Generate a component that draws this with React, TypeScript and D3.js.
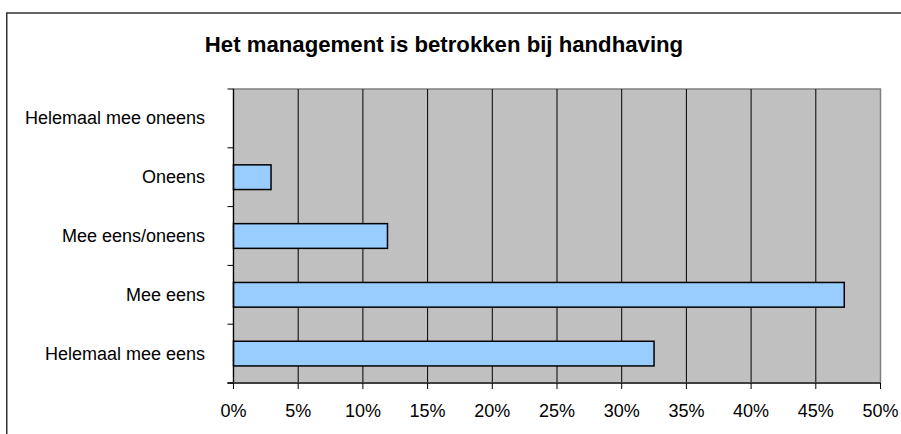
import React from "react";
import * as d3 from "d3";

const title = "Het management is betrokken bij handhaving";
const categories = ["Helemaal mee oneens", "Oneens", "Mee eens/oneens", "Mee eens", "Helemaal mee eens"];
const values = [0, 2.9, 11.9, 47.2, 32.5];
const xTicks = [0, 5, 10, 15, 20, 25, 30, 35, 40, 45, 50];

export default function App() {
  const W = 901, H = 434;
  const left = 233.5, right = 880.5, top = 89, bottom = 383;
  const x = d3.scaleLinear().domain([0, 50]).range([left, right]);
  const y = d3.scaleBand().domain(categories).range([top, bottom]).paddingInner(0.58).paddingOuter(0.29);
  const band = d3.scaleBand().domain(categories).range([top, bottom]);
  const font = "'Liberation Sans', Arial, sans-serif";
  const boundaries = categories.map((c) => band(c) as number).concat([bottom]);

  return (
    <svg width={W} height={H} style={{ position: "absolute", left: 0, top: 0 }} xmlns="http://www.w3.org/2000/svg">
      <rect x={0} y={0} width={W} height={H} fill="#ffffff" />
      <rect x={6.75} y={13} width={W} height={H} fill="#ffffff" stroke="#333333" strokeWidth={1.5} />
      <text x={444} y={51.5} textAnchor="middle" fontFamily={font} fontWeight="bold" fontSize={22.2} fill="#000">{title}</text>
      <rect x={left} y={top} width={right - left} height={bottom - top} fill="#C0C0C0" stroke="#808080" strokeWidth={1.5} />
      {xTicks.filter((t) => t > 0 && t < 50).map((t) => (
        <line key={"g" + t} x1={x(t)} x2={x(t)} y1={top} y2={bottom} stroke="#000" strokeWidth={1} />
      ))}
      {categories.map((c, i) => (
        values[i] > 0 ? (
          <rect key={"b" + c} x={x(0)} y={y(c)} width={x(values[i]) - x(0)} height={y.bandwidth()} fill="#99CCFF" stroke="#000" strokeWidth={1.5} />
        ) : null
      ))}
      <line x1={left} x2={left} y1={top} y2={bottom} stroke="#000" strokeWidth={1.2} />
      <line x1={left - 6} x2={right} y1={bottom} y2={bottom} stroke="#404040" strokeWidth={2} />
      {boundaries.map((b, i) => (
        <line key={"yt" + i} x1={left - 6} x2={left} y1={b} y2={b} stroke="#000" strokeWidth={1} />
      ))}
      {xTicks.map((t) => (
        <g key={"t" + t}>
          <line x1={x(t)} x2={x(t)} y1={bottom} y2={bottom + 6} stroke="#000" strokeWidth={1} />
          <text x={x(t)} y={417} textAnchor="middle" fontFamily={font} fontSize={18} fill="#000">{t + "%"}</text>
        </g>
      ))}
      {categories.map((c) => (
        <text key={"l" + c} x={205} y={(band(c) as number) + band.bandwidth() / 2 + 6} textAnchor="end" fontFamily={font} fontSize={18} fill="#000">{c}</text>
      ))}
    </svg>
  );
}
